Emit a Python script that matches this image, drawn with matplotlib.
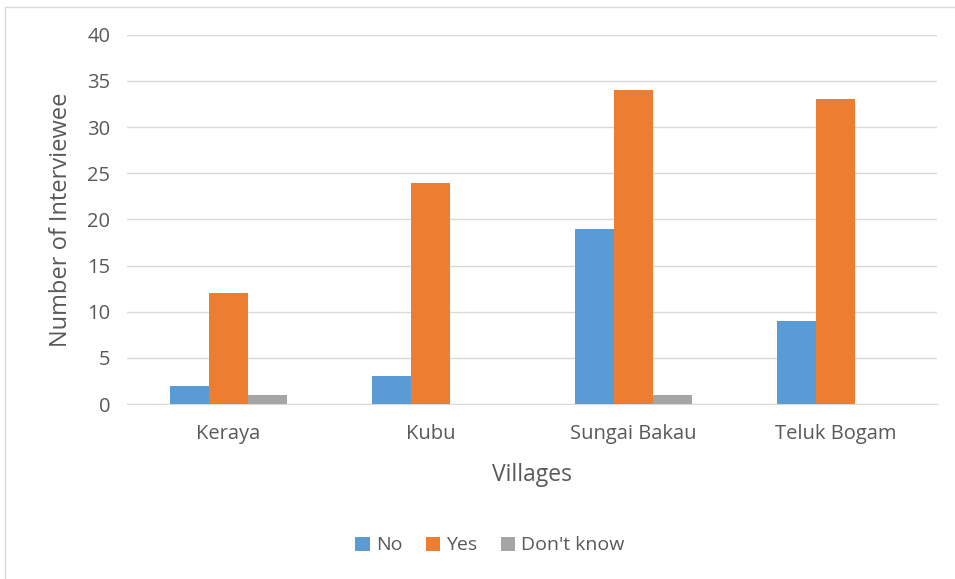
import matplotlib
matplotlib.use("Agg")
import matplotlib.pyplot as plt
from matplotlib.patches import Rectangle
import numpy as np

villages = ["Keraya", "Kubu", "Sungai Bakau", "Teluk Bogam"]
no_answers = [2, 3, 19, 9]
yes_answers = [12, 24, 34, 33]
dont_know = [1, 0, 1, 0]

plt.rcParams['font.family'] = ['Open Sans', 'DejaVu Sans']
text_color = '#595959'

fig = plt.figure(figsize=(9.55, 5.79), dpi=100)
ax = fig.add_axes([0.133, 0.302, 0.848, 0.638])

x = np.arange(len(villages))
width = 0.193
series = [("No", no_answers, '#5B9BD5'),
          ("Yes", yes_answers, '#ED7D31'),
          ("Don't know", dont_know, '#A5A5A5')]
for i, (name, vals, color) in enumerate(series):
    ax.bar(x + (i - 1) * width, vals, width, color=color, label=name, zorder=3)

ax.set_xlim(-0.5, len(villages) - 0.5)
ax.set_ylim(0, 40)
ax.set_yticks(range(0, 41, 5))
ax.set_xticks(x)
ax.set_xticklabels(villages)
ax.grid(axis='y', color='#d9d9d9', linewidth=1, zorder=0)
for side in ['top', 'right', 'left']:
    ax.spines[side].set_visible(False)
ax.spines['bottom'].set_color('#d9d9d9')
ax.tick_params(length=0, labelsize=14.5, colors=text_color)
ax.tick_params(axis='y', pad=12)
ax.tick_params(axis='x', pad=14)

ax.set_ylabel("Number of Interviewee", fontsize=17, color=text_color, labelpad=10)
ax.set_xlabel("Villages", fontsize=16.5, color=text_color, labelpad=14)

leg = fig.legend(loc='center', bbox_to_anchor=(0.513, 0.058), ncol=3, frameon=False,
                 fontsize=14, handlelength=0.75, handleheight=0.75, handletextpad=0.3,
                 columnspacing=1.2)
for t in leg.get_texts():
    t.set_color(text_color)

# outer chart frame
fig.patches.append(Rectangle((5 / 955, -0.1), 1.2, 1 - 7 / 579 + 0.1,
                             transform=fig.transFigure, fill=False,
                             edgecolor='#d9d9d9', linewidth=1))

fig.savefig("out.png", dpi=100)
